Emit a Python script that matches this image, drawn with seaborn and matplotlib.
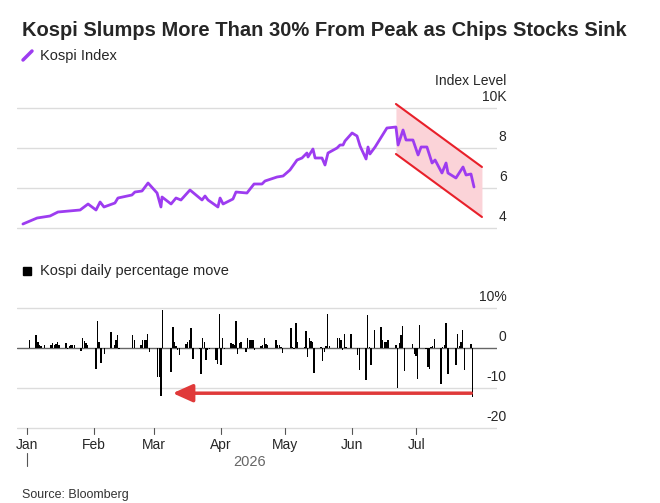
import matplotlib
matplotlib.use("Agg")
import matplotlib.pyplot as plt
import matplotlib.transforms as mtrans
import seaborn as sns
import pandas as pd

sns.set_theme(style="white")
plt.rcParams['font.family'] = ['Liberation Sans', 'DejaVu Sans']

# ---- data (x = days since 2026-01-01) ----
index_day = [-1.9, 4.7, 10.7, 14.4, 24.7, 28.4, 32.1, 34.0, 35.8, 40.9, 42.3, 48.8, 50.2, 53.5, 56.3, 60.5,
             62.3, 62.8, 67.0, 69.3, 71.6, 75.8, 81.4, 82.8, 84.2, 88.8, 89.8, 91.2, 95.8, 97.2, 102.3, 105.6,
             109.3, 110.7, 116.3, 119.1, 122.3, 125.6, 127.9, 130.2, 130.7, 133.0, 134.0, 137.2, 138.6, 140.0,
             144.2, 145.6, 147.0, 147.9, 151.2, 153.5, 154.9, 157.7, 158.6, 159.5, 161.9, 167.4, 171.6, 172.6,
             174.9, 176.3, 179.5, 181.9, 183.3, 186.0, 188.4, 189.8, 193.0, 194.9, 195.8, 199.5, 202.8, 204.2,
             206.5, 207.9]
index_level = [4.2, 4.5, 4.6, 4.8, 4.9, 5.2, 4.9, 5.3, 5.05, 5.25, 5.5, 5.65, 5.8, 5.85, 6.25, 5.75,
               5.05, 5.55, 5.2, 5.5, 5.4, 5.9, 5.4, 5.6, 5.4, 5.05, 5.5, 5.2, 5.45, 5.8, 5.75, 6.2,
               6.2, 6.35, 6.55, 6.6, 6.9, 7.4, 7.5, 7.75, 7.55, 7.95, 7.5, 7.5, 7.15, 7.75,
               8.0, 8.15, 8.15, 8.35, 8.75, 8.6, 8.1, 7.45, 8.05, 7.7, 8.05, 9.0, 9.05, 8.15,
               8.9, 8.4, 8.4, 7.65, 8.05, 8.05, 7.25, 7.4, 6.75, 7.25, 6.75, 6.5, 7.05, 6.65,
               6.7, 6.05]

move_day = [-2.0, 1.1, 4.2, 5.0, 5.7, 6.5, 8.1, 11.2, 11.9, 12.7, 13.5, 14.3, 15.0, 18.1, 18.9, 19.7, 20.5,
            21.2, 22.0, 25.1, 25.9, 26.7, 27.4, 28.2, 32.1, 32.9, 33.6, 34.4, 36.0, 39.1, 40.6, 41.4, 42.2,
            42.9, 49.1, 49.9, 53.0, 53.8, 54.6, 55.3, 56.1, 56.9, 60.8, 61.6, 62.3, 63.1, 67.0, 67.8, 68.5,
            69.3, 70.1, 70.9, 74.0, 74.7, 75.5, 76.3, 77.1, 80.2, 80.9, 81.7, 82.5, 83.3, 84.0, 84.8, 87.9,
            88.7, 89.5, 90.2, 91.0, 91.8, 94.9, 95.7, 96.4, 97.2, 98.0, 98.8, 99.5, 101.9, 102.6, 103.4,
            104.2, 105.0, 105.7, 108.8, 109.6, 110.4, 111.2, 111.9, 115.8, 116.6, 117.4, 118.1, 118.9,
            122.8, 123.6, 124.3, 125.1, 125.9, 129.0, 129.8, 130.5, 131.3, 132.1, 132.9, 133.6, 136.7,
            137.5, 138.3, 139.1, 139.8, 140.6, 144.5, 145.3, 146.0, 146.8, 147.6, 148.4, 150.7, 153.8,
            154.6, 157.7, 158.4, 159.2, 160.0, 161.6, 164.7, 165.4, 166.2, 167.0, 167.8, 171.6, 172.4,
            173.2, 174.0, 174.7, 175.5, 179.4, 180.2, 180.9, 181.7, 182.5, 185.6, 186.4, 187.1, 187.9,
            188.7, 189.5, 192.6, 193.3, 194.1, 194.9, 195.7, 199.5, 200.3, 201.1, 201.9, 202.6, 203.4,
            206.5, 207.3]
move_pct = [0.1, 2.1, 3.3, 1.5, 0.7, 0.4, 0.7, 0.8, 1.3, 0.8, 1.1, 1.5, 0.8, 1.2, -0.3, 0.4, 0.8,
            0.7, 0.7, -0.8, 2.6, 1.7, 1.2, 0.8, -5.2, 6.7, 1.5, -3.8, -1.4, 4.0, 0.8, 1.9, 3.2,
            -0.2, 3.2, 2.1, 0.7, 1.9, 2.1, 1.9, 3.6, -1.0, -7.3, -7.3, -12.0, 9.6, -6.0, 5.2, 1.5,
            0.4, -0.6, -1.7, 1.1, 1.5, 1.9, 5.0, -2.8, -0.2, -6.6, 2.6, 1.5, -3.1, -0.6, -0.2, -2.9,
            -4.1, 8.4, -4.3, 2.6, -0.2, 1.3, 1.1, 0.8, 6.7, -1.6, 1.2, 1.5, -1.0, 2.6, 2.1,
            2.1, 2.1, -0.4, 0.4, 0.8, 2.6, 1.1, 0.7, 2.1, 0.7, 0.7, 0.3, -1.3,
            5.1, 0.3, -0.2, 6.3, 1.5, 0.3, 4.3, -2.3, 2.6, 1.8, 1.5, -6.2, 0.3,
            -3.3, -1.0, 0.4, 8.4, 0.4, 2.5, 2.5, 2.1, -0.6, 3.6, 0.3, 3.6, -1.8,
            -5.6, -8.1, 8.2, 0.3, -4.3, 4.6, 5.2, 2.1, 1.5, 1.5, 2.1, 0.8, -9.9,
            1.2, 3.3, 5.4, -5.8, 0.9, -1.6, -2.1, -7.8, 5.7, -0.3, -4.8, -5.2, 0.3,
            0.4, 2.3, -8.9, 0.3, 0.7, 6.3, -6.4, -4.3, 3.6, 0.4, 1.5, 4.4, -5.6,
            0.9, -12.2]

month_day = [0, 31, 59, 90, 120, 151, 181]
month_label = ["Jan", "Feb", "Mar", "Apr", "May", "Jun", "Jul"]
channel_day = [171.6, 211.6]
channel_upper = [10.2, 7.05]
channel_lower = [7.7, 4.55]
arrow_day = [207.9, 66.5]
arrow_pct = -11.3
top_ticks = [4, 6, 8, 10]
top_tick_labels = ["4", "6", "8", "10K"]
bot_ticks = [-20, -10, 0, 10]
bot_tick_labels = ["-20", "-10", "0", "10%"]

W, H = 660, 503
fig = plt.figure(figsize=(6.6, 5.03), dpi=100)
XL = (-4.65, 218.6)
def axpos(l, r, t, b):
    return [l / W, 1 - b / H, (r - l) / W, (b - t) / H]

purple = "#9D3CF0"
grid = "#dcdcdc"

# top axes: value 4 at 228px, 20px per 1K
ax1 = fig.add_axes(axpos(17, 497, 100, 232))
ax1.set_xlim(*XL)
ax1.set_ylim(4 - 4 / 20, 10 + 8 / 20)
df = pd.DataFrame({"day": index_day, "level": index_level})
ax1.fill_between(channel_day, channel_lower, channel_upper, color="#fbd3d8", zorder=1, lw=0)
ax1.plot(channel_day, channel_upper, color="#e8202a", lw=1.5, zorder=2)
ax1.plot(channel_day, channel_lower, color="#e8202a", lw=1.5, zorder=2)
sns.lineplot(data=df, x="day", y="level", ax=ax1, color=purple, lw=2.0, zorder=3)
for v in top_ticks:
    ax1.axhline(v, color=grid, lw=1, zorder=0)
tr1 = mtrans.blended_transform_factory(ax1.transAxes, ax1.transData)
for v, s in zip(top_ticks, top_tick_labels):
    ax1.text(1.02, v + 0.2, s, transform=tr1, ha="right", va="bottom", fontsize=10, clip_on=False)
ax1.axis("off")

# bottom axes: 0 at 348px, 4px per 1%
ax2 = fig.add_axes(axpos(17, 497, 300, 432))
ax2.set_xlim(*XL)
ax2.set_ylim(-21, 12)
for v in bot_ticks:
    ax2.axhline(v, color=grid if v != 0 else "#666666", lw=1, zorder=0 if v != 0 else 2)
ax2.bar(move_day, move_pct, width=0.7, color="black", linewidth=0, zorder=3)
ax2.annotate("", xy=(arrow_day[1], arrow_pct), xytext=(arrow_day[0], arrow_pct),
             arrowprops=dict(arrowstyle="-|>,head_length=1.0,head_width=0.45", color="#e03a3a", lw=2.5),
             zorder=4)
tr2 = mtrans.blended_transform_factory(ax2.transAxes, ax2.transData)
for v, s in zip(bot_ticks, bot_tick_labels):
    ax2.text(1.02, v + 1.0, s, transform=tr2, ha="right", va="bottom", fontsize=10, clip_on=False)
ax2.axis("off")
for d, s in zip(month_day, month_label):
    ax2.plot([d, d], [-20, -21.5], color="#555555", lw=0.8, clip_on=False)
    ax2.text(d, -22.5, s, ha="center", va="top", fontsize=10, clip_on=False)
fig.text(250 / W, 1 - 462 / H, "2026", ha="center", va="center", fontsize=10.5, color="#666666")
fig.add_artist(plt.Line2D([27 / W, 27 / W], [1 - 453 / H, 1 - 466 / H], color="#555555", lw=0.8))

fig.text(22 / W, 1 - 31 / H, "Kospi Slumps More Than 30% From Peak as Chips Stocks Sink",
         fontsize=14.5, fontweight="bold", va="center", ha="left")
fig.add_artist(plt.Line2D([23 / W, 32 / W], [1 - 60 / H, 1 - 51 / H], color=purple, lw=2.5))
fig.text(40 / W, 1 - 56 / H, "Kospi Index", fontsize=10.5, va="center")
fig.add_artist(plt.Rectangle((23 / W, 1 - 275 / H), 8 / W, 8 / H, color="black"))
fig.text(40 / W, 1 - 271 / H, "Kospi daily percentage move", fontsize=10.5, va="center")
fig.text(506 / W, 1 - 81 / H, "Index Level", fontsize=10, ha="right", va="center")
fig.text(22 / W, 1 - 495 / H, "Source: Bloomberg", fontsize=9, va="center", color="#333333")

fig.savefig("out.png", dpi=100, facecolor="white")
